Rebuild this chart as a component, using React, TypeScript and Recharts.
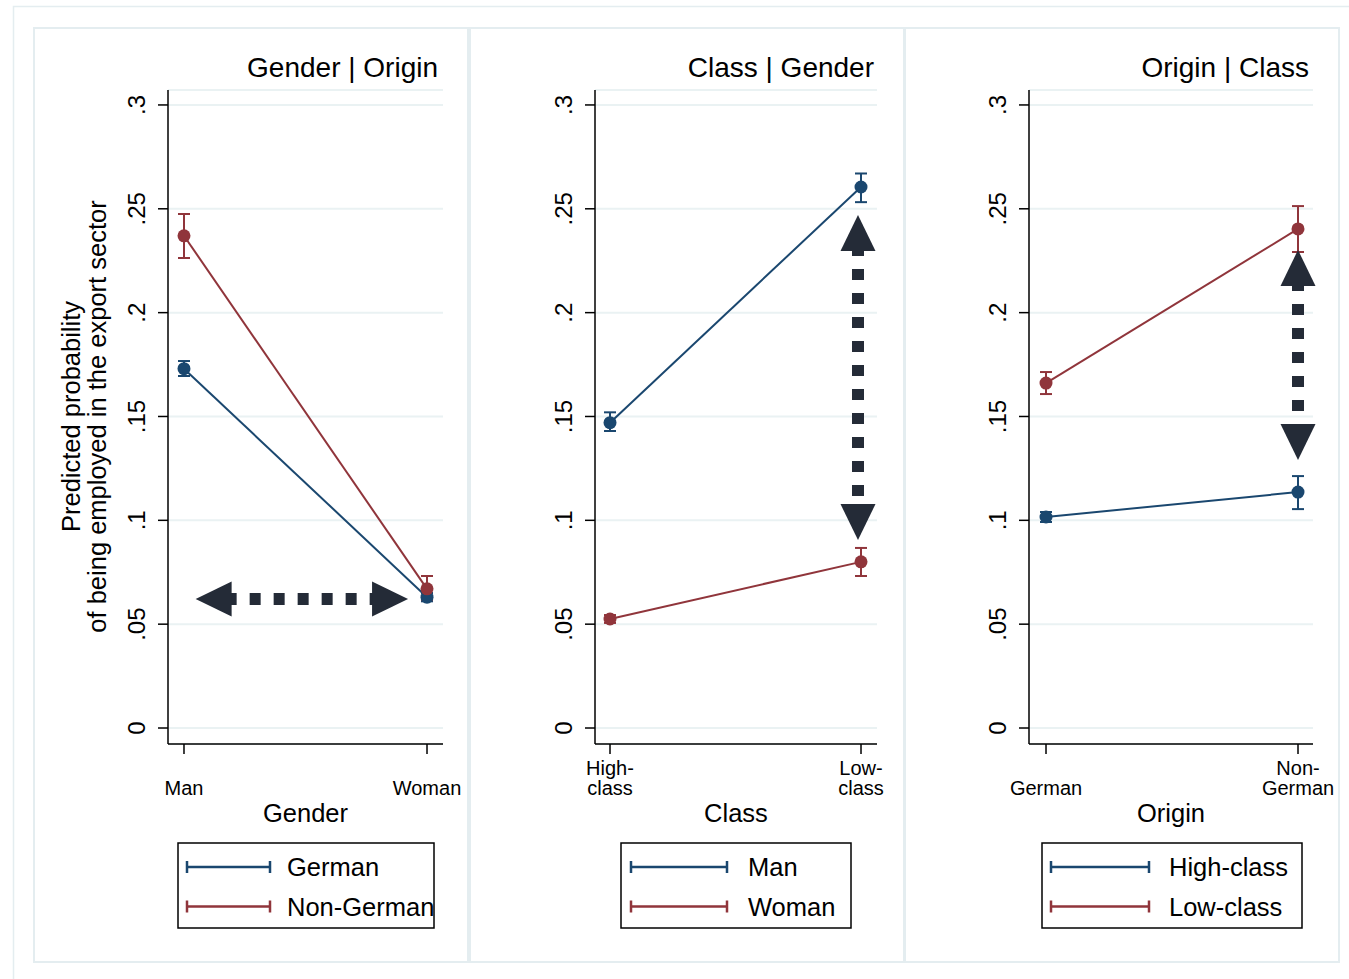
import type { JSX } from 'react';
import {
	LineChart,
	Line,
	XAxis,
	YAxis,
	CartesianGrid,
	ErrorBar,
	ReferenceLine,
} from 'recharts';

const NAVY = '#1a476f';
const MAROON = '#90353b';
const ARROW = '#242b37';
const GRID = '#eaf2f3';
const FRAME = '#e4edf0';
const FONT = '"Liberation Sans", Arial, Helvetica, sans-serif';

// shared y axis
const yTicks = [0, 0.05, 0.1, 0.15, 0.2, 0.25, 0.3];
const yTickLabels = ['0', '.05', '.1', '.15', '.2', '.25', '.3'];

// panel 1: Gender | Origin
const genderCats = ['Man', 'Woman'];
const germanByGender = [0.173, 0.063];
const germanByGenderLo = [0.1695, 0.061];
const germanByGenderHi = [0.1767, 0.065];
const nonGermanByGender = [0.237, 0.067];
const nonGermanByGenderLo = [0.2263, 0.0616];
const nonGermanByGenderHi = [0.2475, 0.0732];
const genderArrowX = [0.048, 0.922];
const genderArrowY = [0.0621, 0.0621];

// panel 2: Class | Gender
const classCats = ['High-class', 'Low-class'];
const manByClass = [0.147, 0.2605];
const manByClassLo = [0.143, 0.2532];
const manByClassHi = [0.152, 0.267];
const womanByClass = [0.0525, 0.08];
const womanByClassLo = [0.0506, 0.0732];
const womanByClassHi = [0.0544, 0.0867];
const classArrowX = [0.988, 0.988];
const classArrowY = [0.247, 0.0905];

// panel 3: Origin | Class
const originCats = ['German', 'Non-German'];
const highByOrigin = [0.1016, 0.1136];
const highByOriginLo = [0.0992, 0.1054];
const highByOriginHi = [0.104, 0.1213];
const lowByOrigin = [0.1661, 0.2403];
const lowByOriginLo = [0.1608, 0.2292];
const lowByOriginHi = [0.1714, 0.2513];
const originArrowX = [1.0, 1.0];
const originArrowY = [0.2302, 0.129];

interface Series {
	name: string;
	color: string;
	values: number[];
	lo: number[];
	hi: number[];
}

interface Panel {
	title: string;
	titleRight: number;
	xTitle: string;
	cats: string[];
	series: Series[];
	arrowX: number[];
	arrowY: number[];
	left: number;
	plotLeft: number;
	plotRight: number;
	xDomain: [number, number];
	legendX: number;
	legendW: number;
	sampleX: [number, number];
	textX: number;
}

const panels: Panel[] = [
	{
		title: 'Gender | Origin',
		titleRight: 438,
		xTitle: 'Gender',
		cats: genderCats,
		series: [
			{ name: 'German', color: NAVY, values: germanByGender, lo: germanByGenderLo, hi: germanByGenderHi },
			{ name: 'Non-German', color: MAROON, values: nonGermanByGender, lo: nonGermanByGenderLo, hi: nonGermanByGenderHi },
		],
		arrowX: genderArrowX,
		arrowY: genderArrowY,
		left: 34,
		plotLeft: 134,
		plotRight: 409,
		xDomain: [-0.0658, 1.0658],
		legendX: 178,
		legendW: 256,
		sampleX: [187, 270],
		textX: 287,
	},
	{
		title: 'Class | Gender',
		titleRight: 874,
		xTitle: 'Class',
		cats: classCats,
		series: [
			{ name: 'Man', color: NAVY, values: manByClass, lo: manByClassLo, hi: manByClassHi },
			{ name: 'Woman', color: MAROON, values: womanByClass, lo: womanByClassLo, hi: womanByClassHi },
		],
		arrowX: classArrowX,
		arrowY: classArrowY,
		left: 470,
		plotLeft: 125,
		plotRight: 407,
		xDomain: [-0.0598, 1.0637],
		legendX: 621,
		legendW: 230,
		sampleX: [631, 727],
		textX: 748,
	},
	{
		title: 'Origin | Class',
		titleRight: 1309,
		xTitle: 'Origin',
		cats: originCats,
		series: [
			{ name: 'High-class', color: NAVY, values: highByOrigin, lo: highByOriginLo, hi: highByOriginHi },
			{ name: 'Low-class', color: MAROON, values: lowByOrigin, lo: lowByOriginLo, hi: lowByOriginHi },
		],
		arrowX: originArrowX,
		arrowY: originArrowY,
		left: 905,
		plotLeft: 124,
		plotRight: 408,
		xDomain: [-0.0675, 1.0595],
		legendX: 1042,
		legendW: 260,
		sampleX: [1051, 1149],
		textX: 1169,
	},
];

const CHART_W = 434;
const CHART_H = 800;
const CHART_TOP = 28;
const MARGIN_TOP = 62;
const X_AXIS_H = 84;

function splitLabel(label: string): string[] {
	const i = label.indexOf('-');
	return i < 0 ? [label] : [label.slice(0, i + 1), label.slice(i + 1)];
}

const YTick = (props: any) => {
	const { x, y, payload } = props;
	const i = yTicks.findIndex(t => Math.abs(t - payload.value) < 1e-9);
	return (
		<text
			x={x}
			y={y}
			transform={`rotate(-90 ${x} ${y})`}
			textAnchor="middle"
			fontSize={24}
			fontFamily={FONT}
			fill="#000"
		>
			{i >= 0 ? yTickLabels[i] : payload.value}
		</text>
	);
};

const makeXTick = (cats: string[]) => (props: any) => {
	const { x, y, payload } = props;
	const lines = splitLabel(cats[payload.value] ?? '');
	return (
		<g>
			{lines.map((t, k) => (
				<text
					key={k}
					x={x}
					y={y + 41 - (lines.length - 1 - k) * 20}
					textAnchor="middle"
					fontSize={20}
					fontFamily={FONT}
					fill="#000"
				>
					{t}
				</text>
			))}
		</g>
	);
};

// dashed arrow with a head on both ends, drawn from the scaled segment ends
const ArrowShape = (props: any) => {
	const { x1, y1, x2, y2 } = props;
	const dx = x2 - x1;
	const dy = y2 - y1;
	const len = Math.hypot(dx, dy) || 1;
	const ux = dx / len;
	const uy = dy / len;
	const px = -uy;
	const py = ux;
	const head = 36;
	const half = 17.5;
	const inset = head - 6;
	const headPts = (tx: number, ty: number, s: number) => {
		const bx = tx + s * ux * head;
		const by = ty + s * uy * head;
		return `${tx},${ty} ${bx + px * half},${by + py * half} ${bx - px * half},${by - py * half}`;
	};
	return (
		<g>
			<line
				x1={x1 + ux * inset}
				y1={y1 + uy * inset}
				x2={x2 - ux * inset}
				y2={y2 - uy * inset}
				stroke={ARROW}
				strokeWidth={12}
				strokeDasharray="11 13"
			/>
			<polygon points={headPts(x1, y1, 1)} fill={ARROW} />
			<polygon points={headPts(x2, y2, -1)} fill={ARROW} />
		</g>
	);
};

function PanelChart({ panel }: { panel: Panel }): JSX.Element {
	const seriesData = panel.series.map(s =>
		s.values.map((v, i) => ({
			x: i,
			y: v,
			err: [v - s.lo[i], s.hi[i] - v],
		}))
	);
	return (
		<div style={{ position: 'absolute', left: panel.left, top: CHART_TOP }}>
			<LineChart
				width={CHART_W}
				height={CHART_H}
				margin={{ top: MARGIN_TOP, right: CHART_W - panel.plotRight, bottom: 0, left: 0 }}
			>
				<CartesianGrid vertical={false} stroke={GRID} strokeWidth={2} />
				<XAxis
					type="number"
					dataKey="x"
					domain={panel.xDomain}
					allowDataOverflow
					ticks={[0, 1]}
					height={X_AXIS_H}
					tickSize={10}
					tickMargin={0}
					tick={makeXTick(panel.cats)}
					axisLine={{ stroke: '#000', strokeWidth: 1.5 }}
					tickLine={{ stroke: '#000', strokeWidth: 1.5 }}
					label={{
						content: ({ viewBox }: any) => (
							<text
								x={viewBox.x + viewBox.width / 2}
								y={viewBox.y + 78}
								textAnchor="middle"
								fontSize={25.5}
								fontFamily={FONT}
								fill="#000"
							>
								{panel.xTitle}
							</text>
						),
					}}
				/>
				<YAxis
					type="number"
					domain={[-0.0077, 0.3072]}
					allowDataOverflow
					ticks={yTicks}
					width={panel.plotLeft}
					tickSize={10}
					tickMargin={13}
					tick={<YTick />}
					axisLine={{ stroke: '#000', strokeWidth: 1.5 }}
					tickLine={{ stroke: '#000', strokeWidth: 1.5 }}
				/>
				{panel.series.map((s, k) => (
					<Line
						key={s.name}
						data={seriesData[k]}
						dataKey="y"
						type="linear"
						stroke={s.color}
						strokeWidth={2}
						dot={{ r: 6.5, fill: s.color, stroke: s.color, strokeWidth: 0 }}
						activeDot={false}
						isAnimationActive={false}
					>
						<ErrorBar
							dataKey="err"
							direction="y"
							width={6}
							stroke={s.color}
							strokeWidth={2}
							isAnimationActive={false}
						/>
					</Line>
				))}
				<ReferenceLine
					segment={[
						{ x: panel.arrowX[0], y: panel.arrowY[0] },
						{ x: panel.arrowX[1], y: panel.arrowY[1] },
					]}
					ifOverflow="visible"
					shape={ArrowShape}
				/>
			</LineChart>
		</div>
	);
}

export default function App(): JSX.Element {
	return (
		<div style={{ position: 'relative', width: 1349, height: 979, background: '#fff', fontFamily: FONT }}>
			<style>{'body{margin:0;background:#fff}'}</style>
			<svg
				width={1349}
				height={979}
				style={{ position: 'absolute', left: 0, top: 0 }}
			>
				<rect x={13.5} y={6.5} width={1400} height={1000} fill="none" stroke={FRAME} strokeWidth={1.5} />
				{panels.map(p => (
					<rect
						key={p.title}
						x={p.left}
						y={CHART_TOP}
						width={CHART_W}
						height={934}
						fill="#fff"
						stroke={FRAME}
						strokeWidth={2}
					/>
				))}
			</svg>

			{panels.map(p => (
				<PanelChart key={p.title} panel={p} />
			))}

			<svg
				width={1349}
				height={979}
				style={{ position: 'absolute', left: 0, top: 0, pointerEvents: 'none' }}
			>
				{panels.map(p => (
					<g key={p.title}>
						<text
							x={p.titleRight}
							y={77}
							textAnchor="end"
							fontSize={28}
							fontFamily={FONT}
							fill="#000"
						>
							{p.title}
						</text>
						<rect
							x={p.legendX}
							y={843}
							width={p.legendW}
							height={85}
							fill="none"
							stroke="#000"
							strokeWidth={1.5}
						/>
						{p.series.map((s, k) => {
							const ry = 867 + k * 39.5;
							return (
								<g key={s.name}>
									<line x1={p.sampleX[0]} x2={p.sampleX[1]} y1={ry} y2={ry} stroke={s.color} strokeWidth={2.5} />
									<line x1={p.sampleX[0]} x2={p.sampleX[0]} y1={ry - 6} y2={ry + 6} stroke={s.color} strokeWidth={2.5} />
									<line x1={p.sampleX[1]} x2={p.sampleX[1]} y1={ry - 6} y2={ry + 6} stroke={s.color} strokeWidth={2.5} />
									<text x={p.textX} y={ry + 9} fontSize={25.5} fontFamily={FONT} fill="#000">
										{s.name}
									</text>
								</g>
							);
						})}
					</g>
				))}
				<g transform="translate(80 416.5) rotate(-90)">
					<text x={0} y={0} textAnchor="middle" fontSize={25.5} fontFamily={FONT} fill="#000">
						Predicted probability
					</text>
					<text x={0} y={26} textAnchor="middle" fontSize={25.5} fontFamily={FONT} fill="#000">
						of being employed in the export sector
					</text>
				</g>
			</svg>
		</div>
	);
}
